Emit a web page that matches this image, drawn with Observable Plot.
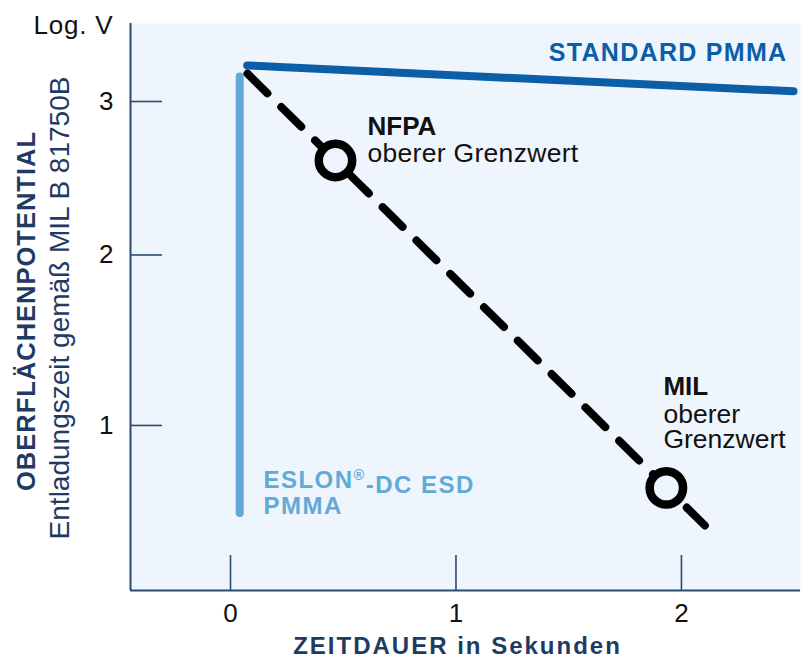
<!DOCTYPE html>
<html><head><meta charset="utf-8">
<script src="https://cdn.jsdelivr.net/npm/d3@7"></script>
<script src="https://cdn.jsdelivr.net/npm/@observablehq/plot@0.6"></script>
<style>
body{margin:0;background:#fff;}
</style>
</head><body><div id="chart"></div>
<script>
// Axis ticks
const xTicks = [0, 1, 2];
const yTicks = [1, 2, 3];
// Series (time in seconds, log V)
const standardT = [0.074, 2.497];
const standardV = [3.246, 3.069];
const eslonT = [0.041, 0.041];
const eslonV = [3.170, 0.550];
const limitT = [0.0754, 2.104];
const limitV = [3.190, 0.490];
// Limit markers
const markerNames = ["NFPA", "MIL"];
const markerT = [0.4656, 1.933];
const markerV = [2.606, 0.673];
// Annotation texts
const labelTexts = ["STANDARD PMMA", "NFPA", "oberer Grenzwert", "MIL", "oberer", "Grenzwert", "ESLON®-DC ESD", "PMMA"];
const labelKinds = ["standard", "bold", "regular", "bold", "regular", "regular", "eslon", "eslon"];
const labelT = [2.470, 0.6075, 0.6075, 1.920, 1.920, 1.920, 0.146, 0.146];
const labelV = [3.280, 2.778, 2.599, 1.166, 1.016, 0.877, 0.675, 0.547];

const xDomain = [-0.4435, 2.528];
const yDomain = [0.206, 3.537];

const standard = standardT.map((t, i) => ({t, v: standardV[i]}));
const eslon = eslonT.map((t, i) => ({t, v: eslonV[i]}));
const limit = limitT.map((t, i) => ({t, v: limitV[i]}));
const markers = markerNames.map((name, i) => ({name, t: markerT[i], v: markerV[i]}));
const labels = labelTexts.map((text, i) => ({text, kind: labelKinds[i], t: labelT[i], v: labelV[i]}));

const BG = "#eef5fc";
const NAVY = "#2c4a72";
const TITLE = "#1f3a64";
const FONT = "'Liberation Sans', Arial, Helvetica, sans-serif";

const W = 801, H = 659, mL = 130, mR = 1, mT = 23, mB = 69;
const plotW = W - mL - mR, plotH = H - mT - mB;

const chart = Plot.plot({
  width: W, height: H,
  marginLeft: mL, marginRight: mR, marginTop: mT, marginBottom: mB,
  style: {fontFamily: FONT, fontSize: "25px", color: "#111", background: "#fff", overflow: "visible"},
  x: {domain: xDomain},
  y: {type: "pow", exponent: 0.8, domain: yDomain},
  marks: [
    Plot.frame({fill: BG, stroke: null}),
    Plot.ruleX([xDomain[0]], {stroke: NAVY, strokeWidth: 2}),
    Plot.ruleY([yDomain[0]], {stroke: NAVY, strokeWidth: 2}),
    Plot.tickY(yTicks, {y: d => d, stroke: NAVY, strokeWidth: 1.6, insetRight: plotW - 32}),
    Plot.tickX(xTicks, {x: d => d, stroke: NAVY, strokeWidth: 1.6, insetTop: plotH - 35}),
    Plot.axisY({ticks: yTicks, tickFormat: d3.format("d"), tickSize: 0, tickPadding: 17, label: null, fontSize: 26, fill: "#111"}),
    Plot.axisX({ticks: xTicks, tickFormat: d3.format("d"), tickSize: 0, tickPadding: 13, label: null, fontSize: 26, fill: "#111"}),
    Plot.line(eslon, {x: "t", y: "v", stroke: "#62aad6", strokeWidth: 8, strokeLinecap: "round"}),
    Plot.line(limit, {x: "t", y: "v", stroke: "#000", strokeWidth: 8, strokeLinecap: "round", strokeDasharray: "28,19.5"}),
    Plot.line(standard, {x: "t", y: "v", stroke: "#0b5fa8", strokeWidth: 8, strokeLinecap: "round"}),
    Plot.dot(markers, {x: "t", y: "v", r: 16.7, stroke: "#000", strokeWidth: 8.5, fill: BG}),
    Plot.text(labels.filter(d => d.kind === "standard"), {x: "t", y: "v", text: "text", textAnchor: "end", lineAnchor: "bottom", fontSize: 25, fontWeight: "bold", fill: "#0b5fa8"}),
    Plot.text(labels.filter(d => d.kind === "bold"), {x: "t", y: "v", text: "text", textAnchor: "start", lineAnchor: "bottom", fontSize: 26, fontWeight: "bold", fill: "#111"}),
    Plot.text(labels.filter(d => d.kind === "regular"), {x: "t", y: "v", text: "text", textAnchor: "start", lineAnchor: "bottom", fontSize: 26.5, fill: "#111"}),
    Plot.text(labels.filter(d => d.kind === "eslon"), {x: "t", y: "v", text: "text", textAnchor: "start", lineAnchor: "bottom", fontSize: 24, fontWeight: "bold", fill: "#62aad6"}),
    Plot.text(["Log. V"], {frameAnchor: "top-left", textAnchor: "start", lineAnchor: "bottom", dx: -97, dy: 10, fontSize: 26, fill: "#111"}),
    Plot.text(["OBERFLÄCHENPOTENTIAL"], {frameAnchor: "left", rotate: -90, textAnchor: "middle", lineAnchor: "bottom", dx: -96, dy: 4, fontSize: 25.5, fontWeight: "bold", fill: TITLE}),
    Plot.text(["Entladungszeit gemäß MIL B 81750B"], {frameAnchor: "left", rotate: -90, textAnchor: "middle", lineAnchor: "bottom", dx: -62, dy: 1, fontSize: 28, fill: TITLE}),
    Plot.text(["ZEITDAUER in Sekunden"], {frameAnchor: "bottom", textAnchor: "middle", lineAnchor: "bottom", dx: -8, dy: 63, fontSize: 24, fontWeight: "bold", fill: TITLE})
  ]
});

// letter spacing tweaks to match the wider original typeface
const spacing = {
  "STANDARD PMMA": 1.3,
  "ESLON®-DC ESD": 1.5,
  "PMMA": 1.5,
  "OBERFLÄCHENPOTENTIAL": 1.0,
  "ZEITDAUER in Sekunden": 2,
  "Log. V": 0.8,
  "oberer Grenzwert": 0.3
};
d3.select(chart).selectAll("text").each(function() {
  const s = spacing[this.textContent];
  if (s != null) this.style.letterSpacing = s + "px";
});

// superscript registered mark
d3.select(chart).selectAll("text").filter(function() { return this.textContent === "ESLON®-DC ESD"; }).each(function() {
  const t = d3.select(this);
  t.text(null);
  t.append("tspan").text("ESLON");
  t.append("tspan").attr("font-size", "0.6em").attr("dy", "-0.55em").text("®");
  t.append("tspan").attr("dy", "0.55em").text("-DC ESD");
});

document.getElementById("chart").appendChild(chart);
</script>
</body></html>
